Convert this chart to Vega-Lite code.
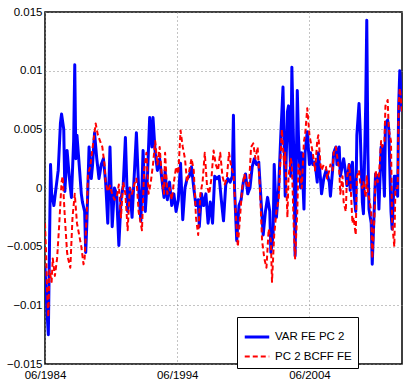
{
"$schema":"https://vega.github.io/schema/vega-lite/v6.json",
"width":357,"height":352,
"autosize":{"type":"none"},
"padding":{"left":45,"top":12,"right":2,"bottom":18},
"background":"#ffffff",
"data":{"values":[
{"d":"1984-06","s":"A","v":-0.0067},{"d":"1984-07","s":"A","v":-0.009},{"d":"1984-09","s":"A","v":-0.0125},{"d":"1984-11","s":"A","v":0.002},{"d":"1984-12","s":"A","v":-0.0005},
{"d":"1985-02","s":"A","v":-0.0015},{"d":"1985-04","s":"A","v":0.0},{"d":"1985-06","s":"A","v":0.0015},{"d":"1985-08","s":"A","v":0.0055},{"d":"1985-09","s":"A","v":0.0063},{"d":"1985-11","s":"A","v":0.005},{"d":"1985-12","s":"A","v":-0.0003},
{"d":"1986-02","s":"A","v":0.0032},{"d":"1986-04","s":"A","v":0.001},{"d":"1986-06","s":"A","v":-0.0008},{"d":"1986-08","s":"A","v":0.004},{"d":"1986-09","s":"A","v":0.0105},{"d":"1986-10","s":"A","v":0.0025},{"d":"1986-11","s":"A","v":0.0045},
{"d":"1987-01","s":"A","v":0.002},{"d":"1987-03","s":"A","v":-0.0005},{"d":"1987-04","s":"A","v":-0.0012},{"d":"1987-06","s":"A","v":-0.002},{"d":"1987-07","s":"A","v":-0.0055},{"d":"1987-08","s":"A","v":-0.003},{"d":"1987-10","s":"A","v":0.0035},{"d":"1987-12","s":"A","v":0.0008},
{"d":"1988-01","s":"A","v":0.0018},{"d":"1988-03","s":"A","v":0.0047},{"d":"1988-05","s":"A","v":0.0025},{"d":"1988-07","s":"A","v":0.0008},{"d":"1988-09","s":"A","v":0.002},{"d":"1988-11","s":"A","v":0.0025},
{"d":"1989-01","s":"A","v":0.0005},{"d":"1989-03","s":"A","v":-0.003},{"d":"1989-05","s":"A","v":0.0035},{"d":"1989-07","s":"A","v":-0.0033},{"d":"1989-09","s":"A","v":0.0},{"d":"1989-11","s":"A","v":-0.0005},
{"d":"1990-01","s":"A","v":-0.0049},{"d":"1990-03","s":"A","v":-0.001},{"d":"1990-05","s":"A","v":0.0002},{"d":"1990-07","s":"A","v":0.0043},{"d":"1990-09","s":"A","v":-0.002},{"d":"1990-11","s":"A","v":0.0},
{"d":"1991-01","s":"A","v":-0.0025},{"d":"1991-03","s":"A","v":0.001},{"d":"1991-05","s":"A","v":0.0047},{"d":"1991-07","s":"A","v":0.0},{"d":"1991-09","s":"A","v":-0.0028},{"d":"1991-11","s":"A","v":0.0032},
{"d":"1992-01","s":"A","v":-0.002},{"d":"1992-03","s":"A","v":0.001},{"d":"1992-05","s":"A","v":0.006},{"d":"1992-07","s":"A","v":0.0035},{"d":"1992-08","s":"A","v":0.006},{"d":"1992-10","s":"A","v":0.003},{"d":"1992-12","s":"A","v":0.0015},
{"d":"1993-02","s":"A","v":0.0025},{"d":"1993-04","s":"A","v":0.0008},{"d":"1993-06","s":"A","v":-0.0008},{"d":"1993-07","s":"A","v":0.0015},{"d":"1993-09","s":"A","v":-0.001},{"d":"1993-11","s":"A","v":0.0005},
{"d":"1994-01","s":"A","v":-0.0015},{"d":"1994-03","s":"A","v":-0.0005},{"d":"1994-05","s":"A","v":-0.002},{"d":"1994-07","s":"A","v":-0.001},{"d":"1994-09","s":"A","v":0.0021},{"d":"1994-11","s":"A","v":-0.0027},
{"d":"1995-01","s":"A","v":0.0},{"d":"1995-03","s":"A","v":0.0008},{"d":"1995-05","s":"A","v":0.001},{"d":"1995-07","s":"A","v":0.0018},{"d":"1995-09","s":"A","v":0.0},{"d":"1995-11","s":"A","v":-0.0015},
{"d":"1996-01","s":"A","v":-0.001},{"d":"1996-02","s":"A","v":-0.0033},{"d":"1996-04","s":"A","v":-0.0005},{"d":"1996-06","s":"A","v":-0.0015},{"d":"1996-08","s":"A","v":-0.0005},{"d":"1996-10","s":"A","v":-0.003},{"d":"1996-12","s":"A","v":-0.0012},
{"d":"1997-02","s":"A","v":-0.003},{"d":"1997-04","s":"A","v":0.001},{"d":"1997-06","s":"A","v":0.0008},{"d":"1997-08","s":"A","v":0.001},{"d":"1997-10","s":"A","v":-0.001},{"d":"1997-12","s":"A","v":-0.0028},
{"d":"1998-02","s":"A","v":0.0003},{"d":"1998-04","s":"A","v":0.0008},{"d":"1998-06","s":"A","v":0.0005},{"d":"1998-08","s":"A","v":0.001},{"d":"1998-09","s":"A","v":0.0062},{"d":"1998-10","s":"A","v":0.0},{"d":"1998-12","s":"A","v":-0.0045},
{"d":"1999-02","s":"A","v":-0.0015},{"d":"1999-04","s":"A","v":-0.001},{"d":"1999-06","s":"A","v":0.0005},{"d":"1999-08","s":"A","v":0.0012},{"d":"1999-10","s":"A","v":-0.0005},{"d":"1999-12","s":"A","v":0.0},
{"d":"2000-02","s":"A","v":0.0018},{"d":"2000-04","s":"A","v":0.0025},{"d":"2000-06","s":"A","v":0.002},{"d":"2000-08","s":"A","v":0.0022},{"d":"2000-10","s":"A","v":-0.001},{"d":"2000-12","s":"A","v":-0.004},
{"d":"2001-02","s":"A","v":-0.002},{"d":"2001-04","s":"A","v":-0.0008},{"d":"2001-06","s":"A","v":-0.002},{"d":"2001-07","s":"A","v":-0.0055},{"d":"2001-09","s":"A","v":-0.004},{"d":"2001-10","s":"A","v":0.002},{"d":"2001-12","s":"A","v":-0.0025},
{"d":"2002-02","s":"A","v":0.0},{"d":"2002-04","s":"A","v":0.0045},{"d":"2002-06","s":"A","v":0.0086},{"d":"2002-08","s":"A","v":-0.0007},{"d":"2002-10","s":"A","v":0.0065},{"d":"2002-11","s":"A","v":0.007},
{"d":"2003-01","s":"A","v":0.001},{"d":"2003-02","s":"A","v":0.0103},{"d":"2003-04","s":"A","v":0.002},{"d":"2003-05","s":"A","v":-0.0058},{"d":"2003-07","s":"A","v":0.0083},{"d":"2003-08","s":"A","v":0.0045},{"d":"2003-10","s":"A","v":0.0},{"d":"2003-11","s":"A","v":0.003},
{"d":"2004-01","s":"A","v":-0.0018},{"d":"2004-02","s":"A","v":0.003},{"d":"2004-04","s":"A","v":0.0048},{"d":"2004-06","s":"A","v":0.002},{"d":"2004-07","s":"A","v":0.003},{"d":"2004-09","s":"A","v":0.002},{"d":"2004-11","s":"A","v":0.0022},
{"d":"2005-01","s":"A","v":0.0005},{"d":"2005-02","s":"A","v":0.003},{"d":"2005-04","s":"A","v":0.0008},{"d":"2005-05","s":"A","v":-0.0005},{"d":"2005-07","s":"A","v":0.0008},{"d":"2005-09","s":"A","v":0.0015},{"d":"2005-10","s":"A","v":0.0012},{"d":"2005-12","s":"A","v":0.0005},
{"d":"2006-01","s":"A","v":-0.0007},{"d":"2006-03","s":"A","v":0.0015},{"d":"2006-04","s":"A","v":0.003},{"d":"2006-06","s":"A","v":0.0035},{"d":"2006-07","s":"A","v":0.002},{"d":"2006-09","s":"A","v":0.0035},{"d":"2006-10","s":"A","v":0.001},{"d":"2006-12","s":"A","v":0.002},
{"d":"2007-01","s":"A","v":0.0025},{"d":"2007-03","s":"A","v":0.0012},{"d":"2007-04","s":"A","v":0.0002},{"d":"2007-06","s":"A","v":0.002},{"d":"2007-07","s":"A","v":-0.0002},{"d":"2007-09","s":"A","v":0.0022},{"d":"2007-10","s":"A","v":0.0},{"d":"2007-12","s":"A","v":-0.002},
{"d":"2008-01","s":"A","v":0.0045},{"d":"2008-03","s":"A","v":0.0072},{"d":"2008-04","s":"A","v":0.005},{"d":"2008-06","s":"A","v":-0.0012},{"d":"2008-07","s":"A","v":-0.0022},{"d":"2008-09","s":"A","v":0.007},{"d":"2008-10","s":"A","v":0.0143},{"d":"2008-11","s":"A","v":0.003},{"d":"2008-12","s":"A","v":-0.0018},
{"d":"2009-02","s":"A","v":-0.003},{"d":"2009-03","s":"A","v":-0.0065},{"d":"2009-05","s":"A","v":-0.0013},{"d":"2009-06","s":"A","v":0.0012},{"d":"2009-08","s":"A","v":0.001},{"d":"2009-09","s":"A","v":-0.0018},{"d":"2009-11","s":"A","v":0.0035},{"d":"2009-12","s":"A","v":0.0036},
{"d":"2010-02","s":"A","v":-0.0007},{"d":"2010-03","s":"A","v":0.0055},{"d":"2010-05","s":"A","v":0.0058},{"d":"2010-06","s":"A","v":0.005},{"d":"2010-08","s":"A","v":-0.002},{"d":"2010-09","s":"A","v":-0.0035},{"d":"2010-11","s":"A","v":0.001},{"d":"2010-12","s":"A","v":0.001},
{"d":"2011-02","s":"A","v":-0.0007},{"d":"2011-03","s":"A","v":0.007},{"d":"2011-04","s":"A","v":0.01},{"d":"2011-06","s":"A","v":0.0065},
{"d":"1984-06","s":"B","v":-0.003},{"d":"1984-07","s":"B","v":-0.0055},{"d":"1984-08","s":"B","v":-0.009},{"d":"1984-09","s":"B","v":-0.011},{"d":"1984-10","s":"B","v":-0.007},{"d":"1984-12","s":"B","v":-0.008},
{"d":"1985-01","s":"B","v":-0.006},{"d":"1985-03","s":"B","v":-0.0075},{"d":"1985-05","s":"B","v":-0.006},{"d":"1985-07","s":"B","v":-0.003},{"d":"1985-09","s":"B","v":0.0005},{"d":"1985-10","s":"B","v":0.001},{"d":"1985-12","s":"B","v":-0.0025},
{"d":"1986-02","s":"B","v":-0.0055},{"d":"1986-03","s":"B","v":-0.006},{"d":"1986-05","s":"B","v":-0.0068},{"d":"1986-07","s":"B","v":-0.0025},{"d":"1986-09","s":"B","v":-0.0005},{"d":"1986-11","s":"B","v":-0.003},
{"d":"1987-01","s":"B","v":-0.004},{"d":"1987-03","s":"B","v":-0.005},{"d":"1987-05","s":"B","v":-0.0065},{"d":"1987-06","s":"B","v":-0.006},{"d":"1987-08","s":"B","v":-0.002},{"d":"1987-09","s":"B","v":0.0012},{"d":"1987-11","s":"B","v":0.0018},
{"d":"1988-01","s":"B","v":0.0033},{"d":"1988-04","s":"B","v":0.0055},{"d":"1988-06","s":"B","v":0.0045},{"d":"1988-08","s":"B","v":0.004},{"d":"1988-10","s":"B","v":0.0035},{"d":"1988-12","s":"B","v":0.002},
{"d":"1989-01","s":"B","v":0.0005},{"d":"1989-03","s":"B","v":-0.0003},{"d":"1989-05","s":"B","v":0.0002},{"d":"1989-07","s":"B","v":-0.0005},{"d":"1989-09","s":"B","v":-0.001},{"d":"1989-11","s":"B","v":-0.0008},
{"d":"1990-01","s":"B","v":0.0003},{"d":"1990-03","s":"B","v":-0.0025},{"d":"1990-05","s":"B","v":0.0005},{"d":"1990-07","s":"B","v":-0.0005},{"d":"1990-09","s":"B","v":-0.0036},{"d":"1990-11","s":"B","v":0.0},
{"d":"1991-01","s":"B","v":-0.0005},{"d":"1991-03","s":"B","v":0.0003},{"d":"1991-05","s":"B","v":0.0008},{"d":"1991-07","s":"B","v":-0.002},{"d":"1991-10","s":"B","v":-0.0036},{"d":"1991-12","s":"B","v":0.0015},
{"d":"1992-02","s":"B","v":0.003},{"d":"1992-04","s":"B","v":-0.0005},{"d":"1992-06","s":"B","v":0.0005},{"d":"1992-08","s":"B","v":0.002},{"d":"1992-10","s":"B","v":0.004},{"d":"1992-12","s":"B","v":0.002},
{"d":"1993-02","s":"B","v":0.0035},{"d":"1993-04","s":"B","v":0.001},{"d":"1993-06","s":"B","v":-0.0005},{"d":"1993-07","s":"B","v":0.003},{"d":"1993-09","s":"B","v":-0.0005},{"d":"1993-11","s":"B","v":0.0},
{"d":"1994-01","s":"B","v":-0.001},{"d":"1994-03","s":"B","v":0.0005},{"d":"1994-05","s":"B","v":0.0018},{"d":"1994-07","s":"B","v":0.0012},{"d":"1994-09","s":"B","v":0.0049},{"d":"1994-11","s":"B","v":0.0035},
{"d":"1995-01","s":"B","v":0.0025},{"d":"1995-03","s":"B","v":0.0005},{"d":"1995-05","s":"B","v":0.0015},{"d":"1995-07","s":"B","v":0.0025},{"d":"1995-09","s":"B","v":0.0015},{"d":"1995-11","s":"B","v":-0.0025},
{"d":"1996-01","s":"B","v":-0.004},{"d":"1996-03","s":"B","v":-0.0005},{"d":"1996-05","s":"B","v":0.0005},{"d":"1996-07","s":"B","v":0.003},{"d":"1996-09","s":"B","v":0.0002},{"d":"1996-11","s":"B","v":-0.0005},
{"d":"1997-01","s":"B","v":0.0008},{"d":"1997-03","s":"B","v":0.0032},{"d":"1997-05","s":"B","v":0.002},{"d":"1997-07","s":"B","v":0.0015},{"d":"1997-09","s":"B","v":0.003},{"d":"1997-11","s":"B","v":0.001},
{"d":"1998-01","s":"B","v":0.0003},{"d":"1998-03","s":"B","v":0.0008},{"d":"1998-05","s":"B","v":0.003},{"d":"1998-07","s":"B","v":0.0018},{"d":"1998-09","s":"B","v":0.0012},{"d":"1998-11","s":"B","v":-0.002},
{"d":"1999-01","s":"B","v":-0.005},{"d":"1999-03","s":"B","v":-0.0025},{"d":"1999-05","s":"B","v":0.0},{"d":"1999-07","s":"B","v":0.0012},{"d":"1999-09","s":"B","v":0.0003},{"d":"1999-11","s":"B","v":0.0},
{"d":"2000-01","s":"B","v":0.0035},{"d":"2000-03","s":"B","v":0.0038},{"d":"2000-05","s":"B","v":0.0025},{"d":"2000-07","s":"B","v":0.0035},{"d":"2000-09","s":"B","v":0.0},{"d":"2000-11","s":"B","v":-0.0045},
{"d":"2001-01","s":"B","v":-0.006},{"d":"2001-03","s":"B","v":-0.0068},{"d":"2001-05","s":"B","v":-0.0035},{"d":"2001-07","s":"B","v":-0.0045},{"d":"2001-08","s":"B","v":-0.008},{"d":"2001-10","s":"B","v":-0.004},{"d":"2001-12","s":"B","v":-0.002},
{"d":"2002-02","s":"B","v":-0.001},{"d":"2002-04","s":"B","v":0.003},{"d":"2002-05","s":"B","v":0.005},{"d":"2002-07","s":"B","v":0.002},{"d":"2002-08","s":"B","v":0.003},{"d":"2002-10","s":"B","v":-0.0025},{"d":"2002-11","s":"B","v":0.001},
{"d":"2003-01","s":"B","v":0.0025},{"d":"2003-02","s":"B","v":0.002},{"d":"2003-04","s":"B","v":-0.004},{"d":"2003-05","s":"B","v":-0.006},{"d":"2003-07","s":"B","v":-0.002},{"d":"2003-08","s":"B","v":0.002},{"d":"2003-10","s":"B","v":0.001},{"d":"2003-11","s":"B","v":0.0},
{"d":"2004-01","s":"B","v":0.004},{"d":"2004-02","s":"B","v":0.0045},{"d":"2004-04","s":"B","v":0.0068},{"d":"2004-06","s":"B","v":0.0045},{"d":"2004-07","s":"B","v":0.004},{"d":"2004-09","s":"B","v":0.003},{"d":"2004-11","s":"B","v":0.0015},
{"d":"2005-01","s":"B","v":0.004},{"d":"2005-02","s":"B","v":0.0045},{"d":"2005-04","s":"B","v":0.002},{"d":"2005-05","s":"B","v":0.0015},{"d":"2005-07","s":"B","v":0.002},{"d":"2005-09","s":"B","v":0.0018},{"d":"2005-10","s":"B","v":0.0008},{"d":"2005-12","s":"B","v":0.0015},
{"d":"2006-01","s":"B","v":0.002},{"d":"2006-03","s":"B","v":0.0015},{"d":"2006-04","s":"B","v":0.003},{"d":"2006-06","s":"B","v":0.0035},{"d":"2006-07","s":"B","v":0.0028},{"d":"2006-09","s":"B","v":0.0015},{"d":"2006-10","s":"B","v":-0.0005},{"d":"2006-12","s":"B","v":0.001},
{"d":"2007-01","s":"B","v":-0.0012},{"d":"2007-03","s":"B","v":-0.002},{"d":"2007-04","s":"B","v":0.0008},{"d":"2007-06","s":"B","v":0.002},{"d":"2007-07","s":"B","v":0.001},{"d":"2007-09","s":"B","v":-0.003},{"d":"2007-10","s":"B","v":-0.0025},{"d":"2007-12","s":"B","v":-0.004},
{"d":"2008-01","s":"B","v":0.001},{"d":"2008-03","s":"B","v":0.0015},{"d":"2008-04","s":"B","v":0.0005},{"d":"2008-06","s":"B","v":0.0},{"d":"2008-07","s":"B","v":0.0005},{"d":"2008-09","s":"B","v":-0.0008},{"d":"2008-10","s":"B","v":0.001},{"d":"2008-11","s":"B","v":-0.0005},{"d":"2008-12","s":"B","v":-0.0008},
{"d":"2009-02","s":"B","v":-0.002},{"d":"2009-03","s":"B","v":-0.006},{"d":"2009-05","s":"B","v":-0.0025},{"d":"2009-06","s":"B","v":0.0015},{"d":"2009-08","s":"B","v":0.0005},{"d":"2009-09","s":"B","v":0.001},{"d":"2009-11","s":"B","v":0.004},{"d":"2009-12","s":"B","v":0.0035},
{"d":"2010-02","s":"B","v":0.004},{"d":"2010-03","s":"B","v":0.007},{"d":"2010-05","s":"B","v":0.0075},{"d":"2010-06","s":"B","v":0.005},{"d":"2010-08","s":"B","v":0.004},{"d":"2010-09","s":"B","v":-0.003},{"d":"2010-11","s":"B","v":-0.005},{"d":"2010-12","s":"B","v":0.0},
{"d":"2011-02","s":"B","v":0.0},{"d":"2011-03","s":"B","v":0.007},{"d":"2011-04","s":"B","v":0.0085},{"d":"2011-06","s":"B","v":0.0065}
]},
"mark":{"type":"line","clip":true,"strokeJoin":"round"},
"encoding":{
"x":{"field":"d","type":"temporal","scale":{"domain":[{"year":1984,"month":6,"date":1},{"year":2011,"month":6,"date":1}],"nice":false},
"axis":{"values":[{"year":1984,"month":6,"date":1},{"year":1994,"month":6,"date":1},{"year":2004,"month":6,"date":1}],"format":"%m/%Y","labelPadding":5,"labelFlush":false,"labelOverlap":false}},
"y":{"field":"v","type":"quantitative","scale":{"domain":[-0.015,0.015],"nice":false,"zero":false},
"axis":{"values":[-0.015,-0.01,-0.005,0,0.005,0.01,0.015],"labelExpr":"datum.value == 0 ? '0' : format(datum.value, '.3~f')","labelPadding":3}},
"color":{"field":"s","type":"nominal","scale":{"domain":["A","B"],"range":["#0000ff","#ff0000"]},
"legend":{"orient":"none","legendX":192,"legendY":305,"title":null,"labelExpr":"datum.label == 'A' ? 'VAR FE PC 2' : 'PC 2 BCFF FE'","strokeColor":"#000","fillColor":"#fff","padding":6,"symbolType":"stroke","symbolSize":600,"rowPadding":-6,"labelOffset":4,"labelFontSize":11.5,"labelFont":"Liberation Sans","labelColor":"#000"}},
"strokeDash":{"field":"s","type":"nominal","scale":{"domain":["A","B"],"range":[[1,0],[5,3]]},"legend":null},
"strokeWidth":{"field":"s","type":"nominal","scale":{"domain":["A","B"],"range":[3,2]},"legend":null}
},
"config":{
"font":"Liberation Sans",
"view":{"stroke":"#000","strokeWidth":1.5},
"axis":{"labelFont":"Liberation Sans","labelFontSize":11.5,"labelColor":"#000","grid":true,"gridColor":"#888","gridDash":[1,3],"gridWidth":1,"domain":false,"ticks":false,"title":null}
}
}
